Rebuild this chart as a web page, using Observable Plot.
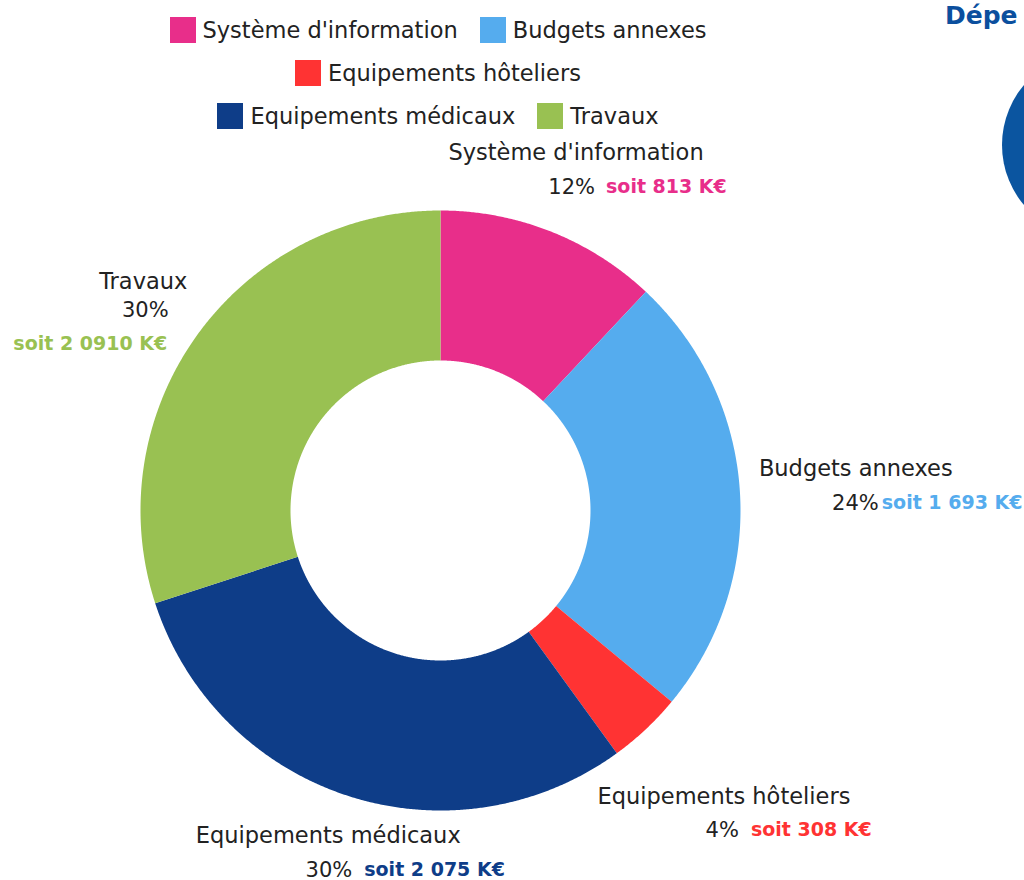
<!DOCTYPE html>
<html>
<head>
<meta charset="utf-8">
<script src="https://cdn.jsdelivr.net/npm/d3@7"></script>
<script src="https://cdn.jsdelivr.net/npm/@observablehq/plot@0.6"></script>
<style>
  html, body { margin: 0; padding: 0; background: #fff; width: 1024px; height: 880px; overflow: hidden; position: relative; font-family: "DejaVu Sans", sans-serif; }
  #legend { position: absolute; left: 0; top: 8px; width: 876px; }
  .row { display: flex; justify-content: center; align-items: center; height: 43px; gap: 22px; }
  .item { display: flex; align-items: center; font-size: 22.5px; color: #222; white-space: nowrap; }
  .sw { width: 26px; height: 26px; margin-right: 7px; display: inline-block; }
  #chart { position: absolute; left: 0; top: 140px; }
  #other-title { position: absolute; left: 945px; top: 0px; font-size: 25px; line-height: 32px; font-weight: bold; color: #0B4F9E; white-space: nowrap; }
  #other-ring { position: absolute; left: 1002px; top: 52px; width: 186px; height: 186px; border-radius: 50%; background: #0B55A0; }
</style>
</head>
<body>
<div id="legend"></div>
<div id="chart"></div>
<div id="other-title">Dépe</div>
<div id="other-ring"></div>
<script>
// ---- data ----
const categories = ["Système d'information", "Budgets annexes", "Equipements hôteliers", "Equipements médicaux", "Travaux"];
const percents = [12, 24, 4, 30, 30];
const amountLabels = ["soit 813 K€", "soit 1 693 K€", "soit 308 K€", "soit 2 075 K€", "soit 2 0910 K€"];
const colors = ["#E82E8A", "#55ACEE", "#FF3333", "#0E3D88", "#99C152"];
const legendRows = [[0, 1], [2], [3, 4]];

// ---- label layout (pixel offsets from the label anchor at the slice mid-angle) ----
const labelLayout = [
  {t: [3, -23], p: [22, 11, "end"], a: [33, 11, "start"]},
  {t: [56, -19], p: [79, 15, "end"], a: [82, 15, "start"]},
  {t: [37, 24], p: [52, 57, "end"], a: [64, 57, "start"]},
  {t: [-1, -17], p: [23, 17, "end"], a: [35, 17, "start"]},
  {t: [-6, -17], p: [-4, 11, "middle"], a: [-59, 45, "middle"]}
];

// ---- legend ----
const legend = document.getElementById("legend");
legendRows.forEach(row => {
  const r = document.createElement("div");
  r.className = "row";
  row.forEach(i => {
    const it = document.createElement("div");
    it.className = "item";
    const sw = document.createElement("span");
    sw.className = "sw";
    sw.style.background = colors[i];
    it.appendChild(sw);
    it.appendChild(document.createTextNode(categories[i]));
    r.appendChild(it);
  });
  legend.appendChild(r);
});

// ---- donut geometry from data ----
const inner = 0.5, outer = 1;
const pie = d3.pie().sort(null).startAngle(0).endAngle(2 * Math.PI)(percents);
const pts = [];
pie.forEach((s, i) => {
  const n = Math.max(4, Math.ceil((s.endAngle - s.startAngle) / 0.005));
  for (let k = 0; k <= n; k++) {
    const a = s.startAngle + (s.endAngle - s.startAngle) * k / n;
    pts.push({name: categories[i], x: outer * Math.sin(a), y: outer * Math.cos(a)});
  }
  for (let k = n; k >= 0; k--) {
    const a = s.startAngle + (s.endAngle - s.startAngle) * k / n;
    pts.push({name: categories[i], x: inner * Math.sin(a), y: inner * Math.cos(a)});
  }
});
const anchors = pie.map((s, i) => {
  const a = (s.startAngle + s.endAngle) / 2;
  return {i, name: categories[i], x: 1.2 * Math.sin(a), y: 1.2 * Math.cos(a),
          pct: percents[i] + "%", amt: amountLabels[i]};
});

const textMarks = anchors.flatMap(d => {
  const L = labelLayout[d.i];
  return [
    Plot.text([d], {x: "x", y: "y", text: "name", dx: L.t[0], dy: L.t[1], textAnchor: "middle", fill: "#222", fontSize: 22.5}),
    Plot.text([d], {x: "x", y: "y", text: "pct", dx: L.p[0], dy: L.p[1], textAnchor: L.p[2], fill: "#222", fontSize: 21}),
    Plot.text([d], {x: "x", y: "y", text: "amt", dx: L.a[0], dy: L.a[1], textAnchor: L.a[2], fill: colors[d.i], fontSize: 19, fontWeight: "bold"})
  ];
});

const plot = Plot.plot({
  width: 1024,
  height: 740,
  margin: 0,
  style: {fontFamily: "DejaVu Sans, sans-serif", background: "transparent", overflow: "visible"},
  x: {domain: [-1, 1], range: [140, 740], axis: null},
  y: {domain: [-1, 1], range: [670, 70], axis: null},
  color: {type: "ordinal", domain: categories, range: colors},
  marks: [
    Plot.line(pts, {x: "x", y: "y", z: "name", fill: "name", stroke: "none", curve: "linear-closed"}),
    ...textMarks
  ]
});
document.getElementById("chart").appendChild(plot);
</script>
</body>
</html>
